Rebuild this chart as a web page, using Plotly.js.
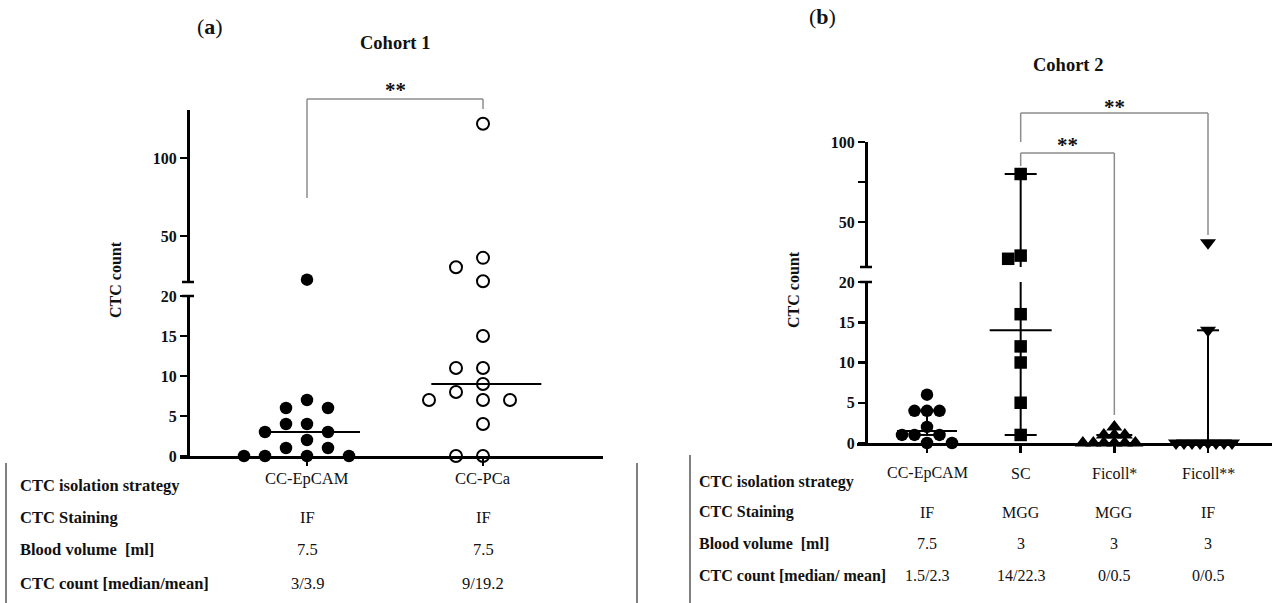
<!DOCTYPE html>
<html><head><meta charset="utf-8">
<script src="https://cdn.plot.ly/plotly-3.0.1.min.js"></script>
<style>html,body{margin:0;padding:0;background:#fff}#chart{width:1280px;height:603px}</style>
</head><body><div id="chart"></div>
<script>
// ---------------- DATA ----------------
const catsA = ['CC-EpCAM', 'CC-PCa'];
const epcamA = [22, 7, 6, 6, 4, 4, 3, 3, 2, 1, 1, 0, 0, 0, 0];
const pcaA = [122, 36, 30, 21, 15, 11, 11, 9, 8, 7, 7, 7, 4, 0, 0];

const catsB = ['CC-EpCAM', 'SC', 'Ficoll*', 'Ficoll**'];
const epcamB = [6, 4, 4, 4, 2, 1, 1, 1, 0, 0];
const scB = [80, 29, 27, 16, 12, 10, 5, 1];
const ficoll1B = [2, 1, 1, 1, 0, 0, 0, 0, 0, 0];
const ficoll2B = [37, 14, 0, 0, 0, 0, 0, 0, 0, 0];
const errLowB = [1, 1, 0, 0];
const errHighB = [4, 80, 1, 14];

const yTicksLow = [0, 5, 10, 15, 20];
const yTicksUpA = [50, 100];
const yTicksUpB = [50, 75, 100];
const yTickTextUpB = ['50', '', '100'];

const rowLabelsA = ['CTC isolation strategy', 'CTC Staining', 'Blood volume  [ml]', 'CTC count [median/mean]'];
const rowLabelsB = ['CTC isolation strategy', 'CTC Staining', 'Blood volume  [ml]', 'CTC count [median/ mean]'];
const stainA = ['IF', 'IF'];
const volumeA = ['7.5', '7.5'];
const countTextA = ['3/3.9', '9/19.2'];
const stainB = ['IF', 'MGG', 'MGG', 'IF'];
const volumeB = ['7.5', '3', '3', '3'];
const countTextB = ['1.5/2.3', '14/22.3', '0/0.5', '0/0.5'];

// ---------------- LAYOUT GEOMETRY ----------------
const W = 1280, H = 603;
const FONT = 'Liberation Serif, Times New Roman, serif';
const fx = p => p / W, fy = p => 1 - p / H;
const lowMax = yTicksLow[yTicksLow.length - 1];

const PA = {xL: 180, xR: 603, cat0: 307, step: 176, axisX: 188, lowTop: 296, lowBot: 456, upTop: 110, upBot: 282, y100: 158, y50: 236};
const PB = {xL: 857, xR: 1272, cat0: 927, step: 93.67, axisX: 866, lowTop: 282, lowBot: 443, upTop: 142, upBot: 267, y100: 142, y50: 222};

function geom(P) {
  const pxLow = (P.lowBot - P.lowTop) / lowMax;
  const pxUp = (P.y50 - P.y100) / 50;
  const upRange = [100 - (P.upBot - P.y100) / pxUp, 100 + (P.y100 - P.upTop) / pxUp];
  const xRange = [(P.xL - P.cat0) / P.step, (P.xR - P.cat0) / P.step];
  return {pxLow, pxUp, upRange, xRange, step: P.step};
}
const GA = geom(PA), GB = geom(PB);

function median(a) {
  const s = [...a].sort((p, q) => p - q), n = s.length;
  return n % 2 ? s[(n - 1) / 2] : (s[n / 2 - 1] + s[n / 2]) / 2;
}

// deterministic beeswarm (pixel space)
function swarm(vals, base, pxPerUnit, g, D) {
  const order = vals.map((v, i) => i).sort((a, b) => (vals[b] - vals[a]) || (a - b));
  const placed = [], off = new Array(vals.length).fill(0);
  order.forEach(i => {
    const y = (vals[i] - base) * pxPerUnit;
    for (let k = 0; k < 400; k++) {
      const m = k === 0 ? 0 : (k % 2 ? -Math.ceil(k / 2) : k / 2);
      const x = m * g;
      if (placed.every(p => Math.hypot(p.x - x, p.y - y) >= D - 1e-6)) { off[i] = x; placed.push({x, y}); return; }
    }
  });
  return off;
}

const traces = [];
const lineTraces = [];
function seg(xa, ya, x0, x1, y0, y1, w) {
  lineTraces.push({type: 'scatter', mode: 'lines', x: [x0, x1], y: [y0, y1], xaxis: xa, yaxis: ya,
    line: {color: 'black', width: w || 2}, hoverinfo: 'skip', showlegend: false});
}
function addPoints(vals, ci, xa, yLo, yUp, G, g, D, marker) {
  const lo = vals.filter(v => v <= lowMax), up = vals.filter(v => v > lowMax);
  const oLo = swarm(lo, 0, G.pxLow, g, D), oUp = swarm(up, G.upRange[0], G.pxUp, g, D);
  if (lo.length) traces.push({type: 'scatter', mode: 'markers', x: lo.map((v, i) => ci + oLo[i] / G.step), y: lo,
    xaxis: xa, yaxis: yLo, marker, cliponaxis: false, hoverinfo: 'skip', showlegend: false});
  if (up.length) traces.push({type: 'scatter', mode: 'markers', x: up.map((v, i) => ci + oUp[i] / G.step), y: up,
    xaxis: xa, yaxis: yUp, marker, cliponaxis: false, hoverinfo: 'skip', showlegend: false});
}

// ---- Panel A ----
const filledCircle = {symbol: 'circle', color: 'black', size: 12.5, line: {width: 0}};
const openCircle = {symbol: 'circle-open', color: 'black', size: 12, line: {width: 2, color: 'black'}};
addPoints(epcamA, 0, 'x', 'y', 'y2', GA, 21, 12, filledCircle);
addPoints(pcaA, 1, 'x', 'y', 'y2', GA, 27, 13, openCircle);
const medHalfA = [50, 55];
[epcamA, pcaA].forEach((s, i) => {
  const m = median(s), h = medHalfA[i] / GA.step;
  seg('x', 'y', i - h * 0.94, i + h * 1.06, m, m, 2);
});

// ---- Panel B ----
addPoints(epcamB, 0, 'x2', 'y3', 'y4', GB, 12.5, 12, {symbol: 'circle', color: 'black', size: 12.5, line: {width: 0}});
addPoints(scB, 1, 'x2', 'y3', 'y4', GB, 12.5, 12, {symbol: 'square', color: 'black', size: 12.5, line: {width: 0}});
addPoints(ficoll1B, 2, 'x2', 'y3', 'y4', GB, 10.5, 6, {symbol: 'triangle-up', color: 'black', size: 14, line: {width: 0}});
addPoints(ficoll2B, 3, 'x2', 'y3', 'y4', GB, 8, 6, {symbol: 'triangle-down', color: 'black', size: 14, line: {width: 0}});
const medHalfB = [30, 31, 25, 30];
const capHalfB = [10, 16, 18, 11];
[epcamB, scB, ficoll1B, ficoll2B].forEach((s, i) => {
  const m = median(s), h = medHalfB[i] / GB.step, c = capHalfB[i] / GB.step;
  seg('x2', 'y3', i - h, i + h, m, m, 2);
  const lo = errLowB[i], hi = errHighB[i];
  seg('x2', 'y3', i, i, lo, Math.min(hi, lowMax), 2);
  if (hi > GB.upRange[0]) seg('x2', 'y4', i, i, Math.max(lo, GB.upRange[0]), hi, 2);
  seg('x2', 'y3', i - c, i + c, lo, lo, 2);
  seg('x2', hi > lowMax ? 'y4' : 'y3', i - c, i + c, hi, hi, 2);
});

const data = lineTraces.concat(traces);

// ---------------- AXES ----------------
const tickFont = {family: FONT, size: 16, color: '#111', weight: 700};
function yAx(top, bot, range, posPx, tickvals, ticktext) {
  return {domain: [fy(bot), fy(top)], range, anchor: 'free', position: fx(posPx), showline: true, linecolor: 'black',
    linewidth: 2.5, ticks: 'outside', ticklen: 7, tickwidth: 2.5, tickcolor: 'black', tickvals,
    ticktext: ticktext || tickvals.map(String), tickfont: tickFont, showgrid: false, zeroline: false, fixedrange: true};
}
function xAx(P, G, n, anchor) {
  return {domain: [fx(P.xL), fx(P.xR)], range: G.xRange, anchor, showline: true, linecolor: 'black', linewidth: 2.5,
    ticks: 'outside', ticklen: 7, tickwidth: 2.5, tickcolor: 'black', tickvals: [...Array(n).keys()],
    showticklabels: false, showgrid: false, zeroline: false, fixedrange: true};
}

// ---------------- ANNOTATIONS ----------------
const ann = [];
function txt(text, x, ypx, o) {
  o = o || {};
  ann.push({text, x: o.xref && o.xref !== 'paper' ? x : fx(x), y: fy(ypx), xref: o.xref || 'paper', yref: 'paper',
    showarrow: false, xanchor: o.xanchor || 'center', yanchor: 'middle', textangle: o.angle || 0,
    font: {family: FONT, size: o.size || 16.5, color: o.color || '#111', weight: o.bold ? 700 : 400}});
}
txt('(<b>a</b>)', 210, 26, {size: 22});
txt('Cohort 1', 395, 43, {size: 18.5, bold: true});
txt('(<b>b</b>)', 822, 17, {size: 22});
txt('Cohort 2', 1068, 65, {size: 18.5, bold: true});
txt('CTC count', 115, 280, {size: 16, bold: true, angle: -90});
txt('CTC count', 793, 290, {size: 16, bold: true, angle: -90});
txt('**', 0.5, 90, {xref: 'x', size: 21, bold: true});
txt('**', 1.5, 145, {xref: 'x2', size: 21, bold: true});
txt('**', 2, 107, {xref: 'x2', size: 21, bold: true});

// tables
const rowYA = [485, 517, 549, 583], valYA = [478, 517, 549, 583];
const rowYB = [482, 512, 543, 575], valYB = [473, 512, 543, 575];
rowLabelsA.forEach((t, r) => txt(t, 18, rowYA[r], {xanchor: 'left', bold: true}));
rowLabelsB.forEach((t, r) => txt(t, 697, rowYB[r], {xanchor: 'left', bold: true, size: 16}));
[catsA, stainA, volumeA, countTextA].forEach((row, r) => row.forEach((t, i) => txt(t, i, valYA[r], {xref: 'x'})));
[catsB, stainB, volumeB, countTextB].forEach((row, r) => row.forEach((t, i) => txt(t, i, valYB[r], {xref: 'x2', size: 16})));

// ---------------- SHAPES ----------------
const shapes = [];
function pline(x0, y0, x1, y1, color, w) {
  shapes.push({type: 'line', xref: 'paper', yref: 'paper', x0: fx(x0), x1: fx(x1), y0: fy(y0), y1: fy(y1),
    line: {color, width: w}});
}
function bracket(xref, xa, xb, yTop, yA, yB) {
  const L = (x0, y0, x1, y1) => shapes.push({type: 'line', xref, yref: 'paper', x0, x1, y0: fy(y0), y1: fy(y1),
    line: {color: '#8c8c8c', width: 1.5}});
  L(xa, yA, xa, yTop); L(xa, yTop, xb, yTop); L(xb, yTop, xb, yB);
}
bracket('x', 0, 1, 99, 198, 109);
bracket('x2', 1, 2, 153, 166, 415);
bracket('x2', 1, 3, 113, 142, 235);
// axis break caps
pline(182, PA.upBot, 194, PA.upBot, 'black', 2.5);
pline(182, PA.lowTop, 194, PA.lowTop, 'black', 2.5);
pline(860, PB.upBot, 872, PB.upBot, 'black', 2.5);
pline(860, PB.lowTop, 872, PB.lowTop, 'black', 2.5);
// table borders
pline(6, 463, 6, 603, '#555', 1.5);
pline(637, 463, 637, 603, '#555', 1.5);
pline(690, 455, 690, 603, '#555', 1.5);

const layout = {
  width: W, height: H, margin: {l: 0, r: 0, t: 0, b: 0}, paper_bgcolor: '#fff', plot_bgcolor: 'rgba(0,0,0,0)',
  showlegend: false, hovermode: false, font: {family: FONT},
  xaxis: xAx(PA, GA, catsA.length, 'y'),
  yaxis: yAx(PA.lowTop, PA.lowBot, [0, lowMax], PA.axisX, yTicksLow),
  yaxis2: yAx(PA.upTop, PA.upBot, GA.upRange, PA.axisX, yTicksUpA),
  xaxis2: xAx(PB, GB, catsB.length, 'y3'),
  yaxis3: yAx(PB.lowTop, PB.lowBot, [0, lowMax], PB.axisX, yTicksLow),
  yaxis4: yAx(PB.upTop, PB.upBot, GB.upRange, PB.axisX, yTicksUpB, yTickTextUpB),
  annotations: ann, shapes
};
Plotly.newPlot('chart', data, layout, {displayModeBar: false, staticPlot: true});
</script></body></html>
